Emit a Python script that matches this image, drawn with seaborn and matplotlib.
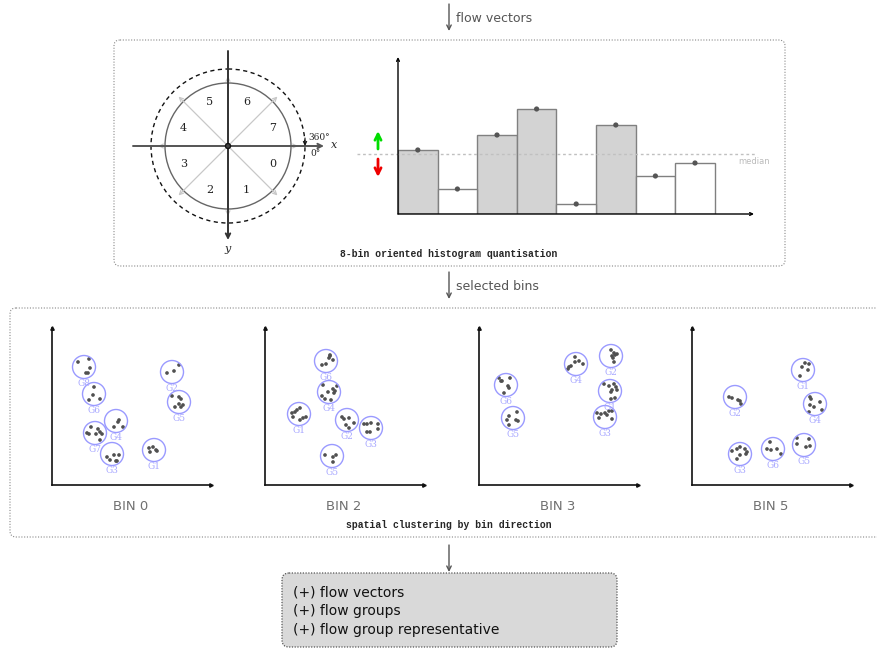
import numpy as np
import pandas as pd
import seaborn as sns
import matplotlib.pyplot as plt
from matplotlib.patches import Circle, FancyBboxPatch

sns.set_style("white")
plt.rcParams["font.family"] = ["DejaVu Sans"]

W, H = 878, 649

# 8-bin orientation histogram
hist_bins = ["0", "1", "2", "3", "4", "5", "6", "7"]
hist_values = [64, 25, 79, 105, 10, 89, 38, 51]
median_level = 60

sector_labels = ["0", "1", "2", "3", "4", "5", "6", "7"]
panel_titles = ["BIN 0", "BIN 2", "BIN 3", "BIN 5"]
out_lines = ["(+) flow vectors", "(+) flow groups", "(+) flow group representative"]

# group centres (panel units) and point offsets read with y pointing down
bin0_centers = {"G8": (32, 118), "G6": (42, 91), "G4": (64, 64), "G7": (43, 52),
                "G3": (60, 31), "G2": (120, 113), "G5": (127, 83), "G1": (102, 35)}
bin0_points = {
    "G8": [(-6, -5), (5, -8), (6, 1), (2, 6), (4, 6)],
    "G6": [(0, -7), (-1, 1), (-5, 6), (6, 5)],
    "G4": [(3, -1), (2, 1), (-2, 6), (7, 6)],
    "G7": [(-4, -6), (3, -4), (-8, 0), (-6, 1), (1, 1), (5, -1), (7, 1), (5, 7)],
    "G3": [(2, 1), (7, 1), (-5, 3), (-2, 6), (4, 7), (5, 7)],
    "G2": [(7, -7), (2, -1), (-5, 1)],
    "G5": [(-7, -6), (0, -5), (2, -3), (0, 2), (4, 3), (2, 5), (-4, 5)],
    "G1": [(-5, -2), (-1, -3), (2, 0), (3, 1), (-4, 2)],
}
bin2_centers = {"G6": (61, 124), "G4": (64, 93), "G1": (34, 71), "G2": (82, 65),
                "G3": (106, 57), "G5": (67, 29)}
bin2_points = {
    "G6": [(-4, 4), (0, 3), (3, -3), (4, -5), (7, -1), (4, -6)],
    "G4": [(-6, -7), (8, -6), (4, -3), (6, -1), (5, 1), (-1, 0), (-7, 4), (-4, 7), (2, 8)],
    "G1": [(-7, -1), (-4, -2), (-2, -4), (1, -6), (-6, 3), (1, 6), (4, 4), (7, 3)],
    "G2": [(-5, -3), (-3, -1), (2, -2), (7, 3), (-1, 5), (2, 8)],
    "G3": [(-7, -4), (-4, -4), (0, -5), (7, -4), (7, 1), (-4, 4), (-1, 4)],
    "G5": [(-7, -1), (1, 1), (4, -1), (1, 6)],
}
bin3_centers = {"G4": (97, 121), "G2": (132, 129), "G1": (131, 94), "G3": (126, 68),
                "G6": (27, 100), "G5": (34, 67)}
bin3_points = {
    "G4": [(-1, -7), (3, -3), (7, 0), (-1, -2), (-5, 2), (-7, 3), (-8, 5)],
    "G2": [(0, -6), (3, -3), (6, -2), (4, -1), (1, 0), (2, 2), (3, 6)],
    "G1": [(-6, -7), (-1, -5), (4, -7), (6, -4), (2, -1), (7, -1), (1, 1), (5, 7), (1, 8)],
    "G3": [(-8, -4), (-4, -3), (0, -4), (4, -6), (7, -6), (-6, 1), (2, -2), (7, 2)],
    "G6": [(-7, -7), (-5, -4), (-4, -4), (4, -7), (2, 1), (3, 3), (-2, 8)],
    "G5": [(4, -6), (-4, -2), (-6, 2), (3, 2), (5, 3), (-4, 7)],
}
bin5_centers = {"G1": (111, 115), "G2": (43, 88), "G4": (123, 81), "G3": (48, 31),
                "G6": (81, 36), "G5": (112, 40)}
bin5_points = {
    "G1": [(2, -7), (6, -6), (-1, -3), (5, 0), (-3, 6)],
    "G2": [(-6, 0), (-3, 1), (3, 3), (5, 4), (6, 7)],
    "G4": [(-5, -7), (-4, -5), (-5, 1), (-1, 3), (5, -2), (-6, 8), (7, 6)],
    "G3": [(0, -7), (-3, -5), (5, -5), (-8, -3), (7, -2), (6, 0), (0, 1), (-3, 5)],
    "G6": [(-3, -7), (-6, 0), (-2, 1), (4, 0), (8, 5)],
    "G5": [(-7, -7), (5, -6), (-7, -1), (2, 2), (6, 1)],
}

fig = plt.figure(figsize=(W / 100, H / 100), dpi=100)
bg = fig.add_axes([0, 0, 1, 1])
bg.set_xlim(0, W)
bg.set_ylim(H, 0)
bg.axis("off")


def px_axes(x0, y0, x1, y1):
    ax = fig.add_axes([x0 / W, 1 - y1 / H, (x1 - x0) / W, (y1 - y0) / H])
    ax.patch.set_alpha(0)
    return ax


def arrow(x0, y0, x1, y1, color="#555555", lw=1.0, style="->", scale=8):
    bg.annotate("", xy=(x1, y1), xytext=(x0, y0),
                arrowprops=dict(arrowstyle=style, color=color, lw=lw,
                                shrinkA=0, shrinkB=0, mutation_scale=scale))


# flow arrows and boxes
arrow(449, 4, 449, 31)
bg.text(456, 18, "flow vectors", fontsize=9, color="#555555", va="center")
arrow(449, 272, 449, 299)
bg.text(456, 287, "selected bins", fontsize=9, color="#555555", va="center")
arrow(449, 545, 449, 572)

bg.add_patch(FancyBboxPatch((114, 40), 671, 226, boxstyle="round,pad=0,rounding_size=6",
                            fill=False, ec="#888888", lw=0.8, ls=(0, (1, 1.5))))
bg.add_patch(FancyBboxPatch((10, 308), 890, 229, boxstyle="round,pad=0,rounding_size=6",
                            fill=False, ec="#888888", lw=0.8, ls=(0, (1, 1.5)), clip_on=False))
bg.add_patch(FancyBboxPatch((282, 573), 335, 74, boxstyle="round,pad=0,rounding_size=7",
                            fc="#d9d9d9", ec="#555555", lw=0.9, ls=(0, (1, 1.2))))
for i, line in enumerate(out_lines):
    bg.text(293, 592 + 19 * i, line, fontsize=10, color="#111111", va="center")

bg.text(449, 254, "8-bin oriented histogram quantisation", fontsize=7, ha="center",
        va="center", family="Liberation Mono", weight="bold")
bg.text(449, 525, "spatial clustering by bin direction", fontsize=7, ha="center",
        va="center", family="Liberation Mono", weight="bold")

# compass of the 8 orientation sectors
cx, cy = 228, 146
for a in range(0, 360, 45):
    t = np.deg2rad(a)
    bg.annotate("", xy=(cx + 70 * np.cos(t), cy + 70 * np.sin(t)), xytext=(cx, cy),
                arrowprops=dict(arrowstyle="->", color="#c8c8c8", lw=0.9,
                                shrinkA=0, shrinkB=0, mutation_scale=7))
bg.add_patch(Circle((cx, cy), 63, fill=False, ec="#666666", lw=1.0))
bg.add_patch(Circle((cx, cy), 77, fill=False, ec="#111111", lw=1.0, ls=(0, (3, 2.5))))
arrow(133, cy, 324, cy, color="#555555", lw=1.4)
arrow(cx, 51, cx, 240, color="#333333", lw=1.4)
bg.add_patch(Circle((cx, cy), 2.5, fc="#444444", ec="#111111", lw=1.0, zorder=5))
for k, lab in enumerate(sector_labels):
    t = np.deg2rad(22.5 + 45 * k)
    bg.text(cx + 48 * np.cos(t), cy + 48 * np.sin(t), lab, fontsize=8,
            family="DejaVu Serif", ha="center", va="center", color="#222222")
arrow(305, 138, 305, 146, color="#111111", lw=0.8, scale=6)
bg.text(308, 137, "360°", fontsize=6.5, family="DejaVu Serif", va="center")
bg.text(310, 154, "0°", fontsize=6.5, family="DejaVu Serif", va="center")
bg.text(331, 145, "x", fontsize=8, family="DejaVu Serif", style="italic", va="center")
bg.text(228, 249, "y", fontsize=8, family="DejaVu Serif", style="italic", ha="center", va="center")

# histogram
hx = px_axes(398, 57, 754, 214)
hist_df = pd.DataFrame({"bin": hist_bins, "value": hist_values})
hist_df["side"] = np.where(hist_df["value"] > median_level, "above", "below")
sns.barplot(data=hist_df, x="bin", y="value", hue="side", order=hist_bins,
            palette={"above": "#d3d3d3", "below": "white"}, dodge=False, width=1,
            edgecolor="#808080", linewidth=1.0, legend=False, ax=hx)
sns.scatterplot(x=np.arange(len(hist_values)), y=hist_values, color="#555555", s=14,
                edgecolor="none", ax=hx, zorder=5)
hx.axhline(median_level, xmin=-0.115, xmax=1.005, color="#c0c0c0", lw=1,
           ls=(0, (2, 2)), clip_on=False)
hx.set_xlim(-0.5, 8.49)
hx.set_ylim(0, 157)
hx.axis("off")
hx.annotate("", xy=(0, 1), xytext=(0, 0), xycoords="axes fraction",
            arrowprops=dict(arrowstyle="->", color="black", lw=1, shrinkA=0, shrinkB=0,
                            mutation_scale=5))
hx.annotate("", xy=(1, 0), xytext=(0, 0), xycoords="axes fraction",
            arrowprops=dict(arrowstyle="->", color="black", lw=1, shrinkA=0, shrinkB=0,
                            mutation_scale=5))
bg.text(754, 162, "median", fontsize=6, color="#bbbbbb", ha="center", va="center")
arrow(378, 149, 378, 131, color="#00dd00", lw=2.0, scale=11)
arrow(378, 159, 378, 177, color="#ee0000", lw=2.0, scale=11)

# spatial clustering panels
panels = [(52, bin0_centers, bin0_points), (265, bin2_centers, bin2_points),
          (479, bin3_centers, bin3_points), (692, bin5_centers, bin5_points)]
for (x0, centers, points), title in zip(panels, panel_titles):
    ax = px_axes(x0, 328, x0 + 159, 485)
    rows = []
    for g, (gx, gy) in centers.items():
        for dx, dy in points[g]:
            rows.append({"group": g, "x": gx + dx, "y": gy - dy})
    pts = pd.DataFrame(rows)
    sns.scatterplot(data=pts, x="x", y="y", color="#505050", s=7, edgecolor="none", ax=ax)
    for g, (gx, gy) in centers.items():
        ax.add_patch(Circle((gx, gy), 11.5, fill=False, ec="#9a9aff", lw=1.0))
        ax.text(gx, gy - 16.5, g, fontsize=6.5, family="DejaVu Serif", color="#a8a8ff",
                ha="center", va="center")
    ax.set_xlim(0, 159)
    ax.set_ylim(0, 157)
    ax.set_xticks([])
    ax.set_yticks([])
    ax.set_xlabel("")
    ax.set_ylabel("")
    sns.despine(ax=ax)
    for s in ["left", "bottom"]:
        ax.spines[s].set_color("#111111")
        ax.spines[s].set_linewidth(1.2)
    ax.plot(1, 0, ">", color="#111111", ms=2.5, transform=ax.transAxes, clip_on=False)
    ax.plot(0, 1, "^", color="#111111", ms=2.5, transform=ax.transAxes, clip_on=False)
    bg.text(x0 + 79, 507, title, fontsize=9.5, color="#707070", ha="center", va="center")

fig.savefig("out.png", dpi=100)
